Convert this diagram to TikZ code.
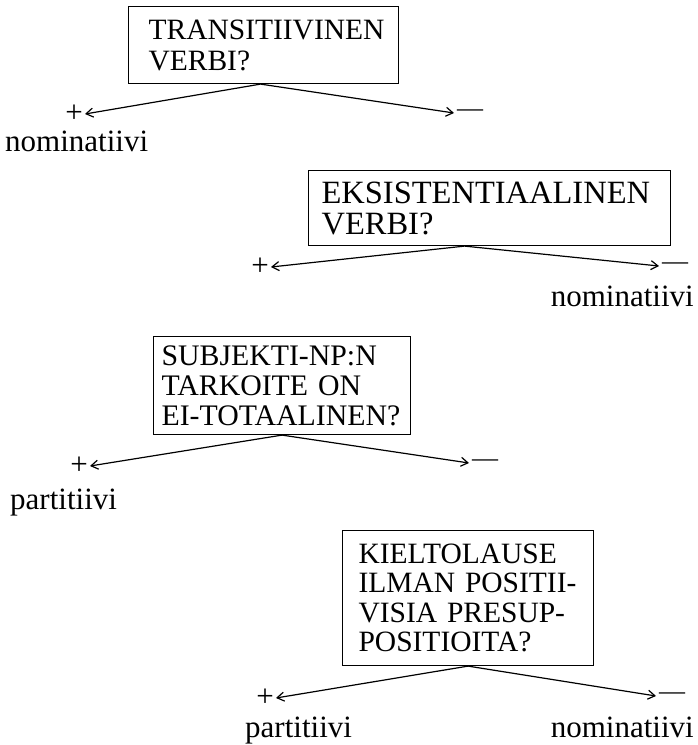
\documentclass[tikz,border=0pt]{standalone}
\usepackage{fontspec}
\setmainfont{Liberation Serif}
\usetikzlibrary{arrows.meta}
\hyphenpenalty=10000
\exhyphenpenalty=10000
\begin{document}
\begin{tikzpicture}[x=1pt,y=-1pt,
  qbox/.style={draw, line width=1.1pt, anchor=north west, align=left,
    font=\fontsize{29.5}{31}\selectfont},
  arr/.style={line width=1.2pt, -{Straight Barb[length=7pt,width=9pt,line width=1.2pt]}},
  lbl/.style={font=\fontsize{31}{31}\selectfont, inner sep=0pt},
  sgn/.style={font=\fontsize{31}{31}\selectfont, inner xsep=2pt, inner ysep=0pt},
  dsh/.style={font=\fontsize{26}{30}\selectfont, inner xsep=3pt, inner ysep=0pt}]
\useasboundingbox (0,0) rectangle (698,745);

% box 1
\node[qbox, inner xsep=20pt, text width=230pt, minimum height=77pt] (b1) at (128,6)
  {TRANSITIIVINEN\\VERBI?};
\node[sgn, anchor=east] (p1) at (85,114) {+};
\node[dsh, anchor=west] (m1) at (454,113) {—};
\node[lbl, anchor=base west] (n1) at (5,151) {nominatiivi};
\draw[arr] ([xshift=-3pt]b1.south) -- (p1.east);
\draw[arr] ([xshift=-3pt]b1.south) -- (m1.west);

% box 2
\node[qbox, inner xsep=13pt, text width=336pt, minimum height=75pt,
  font=\fontsize{32.5}{31}\selectfont] (b2) at (308,170)
  {EKSISTENTIAALINEN\\VERBI?};
\node[sgn, anchor=east] (p2) at (271,267) {+};
\node[dsh, anchor=west] (m2) at (659,266) {—};
\node[lbl, anchor=base east] (n2) at (694,306) {nominatiivi};
\draw[arr] ([xshift=-25pt]b2.south) -- (p2.east);
\draw[arr] ([xshift=-25pt]b2.south) -- (m2.west);

% box 3
\node[qbox, inner xsep=8pt, text width=241pt, minimum height=98pt,
  font=\fontsize{29.8}{30}\selectfont] (b3) at (153,336)
  {SUBJEKTI-NP:N\\TARKOITE ON\\EI-TOTAALINEN?};
\node[sgn, anchor=east] (p3) at (90,466) {+};
\node[dsh, anchor=west] (m3) at (469,463) {—};
\node[lbl, anchor=base west] (n3) at (10,509) {partitiivi};
\draw[arr] (b3.south) -- (p3.east);
\draw[arr] (b3.south) -- (m3.west);

% box 4
\node[qbox, inner xsep=16pt, text width=219pt, minimum height=135pt,
  font=\fontsize{29.5}{29.5}\selectfont] (b4) at (342,530)
  {KIELTOLAUSE\\ILMAN POSITII-\\VISIA PRESUP-\\POSITIOITA?};
\node[sgn, anchor=east] (p4) at (276,698) {+};
\node[dsh, anchor=west] (m4) at (656,696) {—};
\node[lbl, anchor=base west] (n4) at (245,737) {partitiivi};
\node[lbl, anchor=base east] (n5) at (694,737) {nominatiivi};
\draw[arr] (b4.south) -- (p4.east);
\draw[arr] (b4.south) -- (m4.west);
\end{tikzpicture}
\end{document}
